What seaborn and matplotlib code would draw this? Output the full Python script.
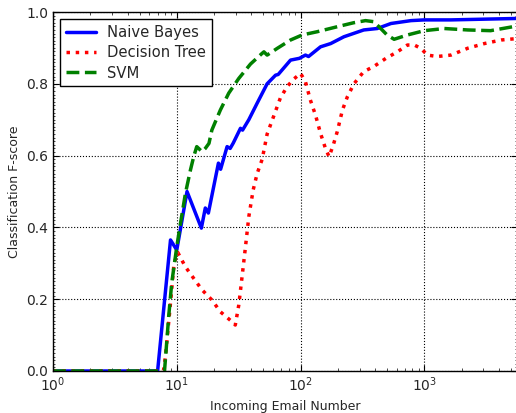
import numpy as np
import pandas as pd
import matplotlib
matplotlib.use("Agg")
import matplotlib.pyplot as plt
import seaborn as sns
from matplotlib.ticker import LogLocator, MultipleLocator

# ---- data ----
nb_x = [1, 7, 8.9, 10, 12.1, 15.8, 17, 18, 21.7, 22.6, 25.5, 27, 28.6, 32.7, 34, 38.2,
        44.6, 53.7, 62.8, 66, 83, 98, 109.5, 116, 145, 175, 224, 324, 417, 538, 780,
        1000, 1640, 3000, 5600]
nb_y = [0, 0, 0.365, 0.337, 0.50, 0.398, 0.454, 0.44, 0.579, 0.562, 0.625, 0.62, 0.635,
        0.676, 0.671, 0.70, 0.746, 0.80, 0.824, 0.826, 0.866, 0.871, 0.880, 0.876, 0.903,
        0.912, 0.931, 0.950, 0.954, 0.968, 0.976, 0.978, 0.978, 0.980, 0.982]

dt_x = [1, 7.8, 8.1, 8.9, 9.5, 10.2, 11.75, 13.7, 16, 19.2, 22.5, 28, 29.7, 31.7, 33.7,
        35.9, 38.2, 41.4, 44.6, 49, 53.7, 60.7, 68.6, 77.8, 88, 100, 109.5, 120, 132,
        145, 159, 170, 184, 198, 218, 239, 270, 324, 390, 490, 605, 730, 830, 935, 1060,
        1270, 1640, 2240, 3050, 4170, 5600]
dt_y = [0, 0, 0.04, 0.19, 0.30, 0.33, 0.29, 0.258, 0.226, 0.198, 0.165, 0.137, 0.128,
        0.184, 0.263, 0.346, 0.43, 0.504, 0.55, 0.59, 0.66, 0.71, 0.76, 0.792, 0.813,
        0.829, 0.806, 0.755, 0.713, 0.662, 0.62, 0.597, 0.63, 0.667, 0.727, 0.764, 0.80,
        0.834, 0.848, 0.871, 0.889, 0.908, 0.908, 0.899, 0.88, 0.876, 0.88, 0.899, 0.912,
        0.922, 0.926]

svm_x = [1, 7.96, 8.6, 9.1, 10.0, 10.7, 11.75, 12.9, 13.7, 14.5, 16, 17, 18.2, 19.2, 22.5,
         26.3, 31.7, 39.4, 49, 50.6, 53.7, 65, 83, 103, 136, 198, 268, 335, 390, 430,
         500, 570, 730, 1000, 1450, 2240, 3430, 5600]
svm_y = [0, 0, 0.151, 0.245, 0.346, 0.41, 0.495, 0.56, 0.597, 0.625, 0.611, 0.62, 0.634,
         0.671, 0.727, 0.774, 0.815, 0.855, 0.885, 0.889, 0.880, 0.899, 0.922, 0.936,
         0.945, 0.959, 0.970, 0.976, 0.973, 0.959, 0.936, 0.924, 0.936, 0.948, 0.954,
         0.950, 0.948, 0.961]

labels = ["Naive Bayes", "Decision Tree", "SVM"]
x_label = "Incoming Email Number"
y_label = "Classification F-score"

sns.set_style("white")
plt.rcParams["font.family"] = ["DejaVu Sans"]

fig = plt.figure(figsize=(5.16, 4.13), dpi=100)
fig.patch.set_facecolor("white")
ax = fig.add_axes([53 / 516, 42 / 413, 1 - 53 / 516 + 0.002, (371 - 12) / 413])

series = [
    (nb_x, nb_y, labels[0], "blue", "-"),
    (dt_x, dt_y, labels[1], "red", ":"),
    (svm_x, svm_y, labels[2], "green", "--"),
]
for xs, ys, lab, col, ls in series:
    df = pd.DataFrame({"x": xs, "y": ys})
    sns.lineplot(data=df, x="x", y="y", ax=ax, color=col, linestyle=ls, lw=2.5,
                 label=lab, estimator=None, sort=True)

ax.set_xscale("log")
ax.set_xlim(1, 10 ** ((516 - 53) / 123.5))
ax.set_ylim(0, 1.0)
ax.yaxis.set_major_locator(MultipleLocator(0.2))
ax.yaxis.set_minor_locator(MultipleLocator(0.01))
ax.xaxis.set_major_locator(LogLocator(base=10))
ax.xaxis.set_minor_locator(LogLocator(base=10, subs=np.arange(2, 10)))
ax.set_xlabel(x_label, fontsize=9)
ax.set_ylabel(y_label, fontsize=9)

ax.tick_params(which="both", direction="in", top=True, right=True, labelsize=10,
               color="black", bottom=True, left=True)
ax.tick_params(which="major", length=4, width=0.8)
ax.tick_params(which="minor", length=2, width=0.5)
ax.tick_params(axis="y", which="minor", length=1.5, width=0.5)

ax.grid(True, which="major", linestyle=":", color="black", linewidth=0.8)
for s in ax.spines.values():
    s.set_visible(True)
    s.set_color("black")
    s.set_linewidth(1.0)

leg = ax.legend(loc="upper left", fontsize=10.6, frameon=True, fancybox=False,
                framealpha=1, edgecolor="black", borderaxespad=0.5,
                handlelength=2.0, labelspacing=0.35)
leg.get_frame().set_linewidth(1.0)

fig.savefig("out.png", dpi=100, facecolor="white")
